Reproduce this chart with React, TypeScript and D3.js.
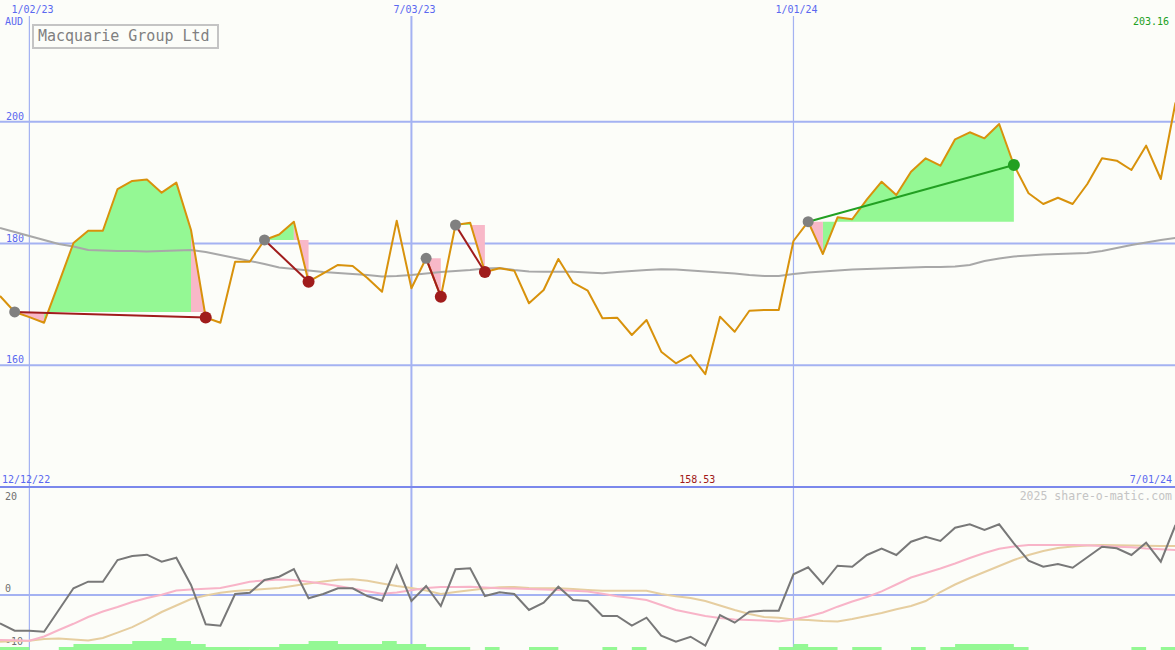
import React from 'react';
import * as d3 from 'd3';

// Weekly closing prices (AUD)
const prices = [
  171.38, 168.75, 167.9, 166.99, 173.5, 180.08, 182.1, 182.1, 188.95, 190.27,
  190.5, 188.35, 190.0, 182.22, 167.84, 166.99, 177.0, 177.0, 180.58, 181.48,
  183.58, 173.72, 175.1, 176.47, 176.3, 174.33, 172.08, 183.75, 172.64, 177.57,
  171.26, 183.04, 183.42, 175.32, 175.93, 175.53, 170.18, 172.36, 177.45, 173.56,
  172.25, 167.71, 167.81, 164.97, 167.43, 162.23, 160.32, 161.68, 158.53, 167.98,
  165.51, 168.96, 169.08, 169.08, 180.41, 183.58, 178.28, 184.3, 183.98, 187.26,
  190.15, 187.97, 191.8, 194.0, 192.78, 197.12, 198.27, 197.28, 199.63, 192.9,
  188.25, 186.49, 187.52, 186.49, 189.77, 194.0, 193.6, 192.07, 196.07, 190.6,
  203.16,
];

// Long moving average of price
const priceMA = [
  182.55, 181.89, 181.23, 180.57, 179.92, 179.51, 178.93, 178.85, 178.77, 178.77,
  178.69, 178.77, 178.85, 178.93, 178.6, 178.11, 177.62, 177.13, 176.63, 176.06,
  175.81, 175.56, 175.32, 175.15, 174.99, 174.83, 174.58, 174.66, 174.83, 175.07,
  175.32, 175.48, 175.65, 175.89, 175.98, 175.65, 175.4, 175.37, 175.37, 175.37,
  175.24, 175.1, 175.32, 175.48, 175.65, 175.76, 175.73, 175.56, 175.4, 175.24,
  175.07, 174.83, 174.66, 174.66, 174.99, 175.24, 175.4, 175.56, 175.73, 175.81,
  175.89, 175.98, 176.06, 176.14, 176.14, 176.22, 176.47, 177.13, 177.54, 177.87,
  178.03, 178.19, 178.28, 178.36, 178.44, 178.77, 179.26, 179.75, 180.16, 180.57,
  180.9,
];

// Momentum oscillator (lower panel)
const oscillator = [
  -6.15, -7.76, -7.76, -7.98, -3.26, 1.46, 2.89, 2.89, 7.61, 8.48,
  8.76, 7.24, 8.11, 2.17, -6.37, -6.67, 0.22, 0.5, 3.26, 3.98,
  5.65, -0.72, 0.22, 1.46, 1.46, -0.22, -1.24, 6.37, -1.3, 1.96,
  -2.39, 5.59, 5.8, -0.22, 0.59, 0.22, -3.26, -1.67, 1.8, -1.09,
  -1.3, -4.57, -4.57, -6.67, -4.93, -8.85, -10.15, -9.07, -11.02, -4.35,
  -6.02, -3.63, -3.41, -3.41, 4.5, 6.02, 2.39, 6.37, 6.15, 8.7,
  10.07, 8.7, 11.59, 12.67, 11.74, 14.63, 15.37, 14.13, 15.37, 11.24,
  7.46, 6.15, 6.74, 5.93, 8.2, 10.5, 10.15, 8.7, 11.37, 7.24,
  15.22,
];

const oscSignalFast = [
  -9.78, -9.85, -9.93, -9.02, -7.61, -6.26, -4.78, -3.59, -2.61, -1.52,
  -0.65, 0.07, 0.98, 1.2, 1.37, 1.52, 2.17, 2.89, 3.15, 3.37,
  3.26, 2.87, 2.46, 1.96, 1.41, 0.8, 0.26, 0.54, 1.02, 1.52,
  1.74, 1.74, 1.8, 1.63, 1.46, 1.39, 1.3, 1.22, 1.09, 0.91,
  0.76, 0.26, -0.26, -0.65, -1.09, -2.17, -3.26, -3.91, -4.57, -5.0,
  -5.3, -5.43, -5.57, -5.76, -5.33, -4.67, -3.8, -2.54, -1.41, -0.43,
  0.8, 2.28, 3.8, 4.78, 5.76, 6.85, 8.04, 9.13, 10.07, 10.54,
  10.87, 10.87, 10.87, 10.87, 10.8, 10.65, 10.5, 10.37, 10.11, 9.93,
  9.78,
];

const oscSignalSlow = [
  -10.15, -10.0, -9.93, -9.57, -9.46, -9.67, -9.89, -9.35, -8.17, -7.0,
  -5.43, -3.7, -2.28, -0.87, -0.11, 0.5, 0.87, 1.09, 1.3, 1.52,
  2.0, 2.5, 2.93, 3.3, 3.41, 3.09, 2.5, 1.96, 1.52, 0.98,
  0.22, 0.65, 1.02, 1.41, 1.7, 1.74, 1.52, 1.46, 1.46, 1.3,
  1.09, 0.93, 0.93, 0.93, 0.93, 0.22, -0.28, -0.65, -1.3, -2.28,
  -3.26, -4.13, -4.78, -4.93, -5.33, -5.43, -5.65, -5.76, -5.22, -4.57,
  -3.91, -3.11, -2.39, -1.3, 0.65, 2.28, 3.7, 5.0, 6.3, 7.61,
  8.7, 9.57, 10.22, 10.54, 10.76, 10.87, 10.83, 10.76, 10.72, 10.65,
  10.65,
];

// Weekly volume level (one per week segment)
const volume = [
  1, 1, 0, 0, 1, 2, 2, 2, 2, 3,
  3, 4, 3, 2, 1, 1, 1, 1, 1, 2,
  2, 3, 3, 2, 2, 2, 3, 2, 2, 1,
  1, 1, 0, 1, 0, 0, 1, 1, 0, 0,
  0, 1, 0, 1, 0, 0, 0, 0, 0, 0,
  0, 0, 0, 1, 2, 1, 1, 0, 1, 1,
  0, 0, 1, 0, 1, 2, 2, 2, 2, 1,
  0, 0, 0, 0, 0, 0, 0, 1, 0, 1,
];

// Trades (week indices)
const tradeEntries = [1, 18, 29, 31, 55];
const tradeExits = [14, 21, 30, 33, 69];

const priceTicks = [200, 180, 160];
const oscTicks = [20, 0, -10];
const dateTickIdx = [2, 28, 54];
const dateTickLabels = ['1/02/23', '7/03/23', '1/01/24'];
const title = 'Macquarie Group Ltd';
const currency = 'AUD';
const startLabel = '12/12/22';
const endLabel = '7/01/24';
const watermark = '2025 share-o-matic.com';

const W = 1175;
const H = 650;
const SEP = 487;
const FONT = '"DejaVu Sans Mono", "Liberation Mono", monospace';

const BG = '#fcfdf9';
const GRID = '#a4b2f2';
const SEPC = '#7b88ec';
const BLUE = '#5a68f0';
const ORANGE = '#d8920c';
const GREENF = '#94f894';
const PINKF = '#f8b8c8';

export default function App() {
  const n = prices.length;
  const x = d3.scaleLinear().domain([0, n - 1]).range([0, 1175.5]);
  const y = d3.scaleLinear().domain([140, 220]).range([SEP, 0]);
  const yo = d3.scaleLinear().domain([0, 20]).range([595, 503]);
  const yv = d3.scaleLinear().domain([0, 4]).range([650, 638]);

  const priceLine = d3.line<number>().x((_, i) => x(i)).y((d) => y(d));
  const oscLine = d3.line<number>().x((_, i) => x(i)).y((d) => yo(d));

  const minIdx = d3.minIndex(prices);
  const last = prices[n - 1];

  const fills: React.ReactNode[] = [];
  tradeEntries.forEach((e, t) => {
    const ex = tradeExits[t];
    const lvl = prices[e];
    const g = d3.path();
    const p = d3.path();
    for (let i = e; i < ex; i++) {
      const target = prices[i + 1] >= lvl ? g : p;
      target.moveTo(x(i), y(lvl));
      target.lineTo(x(i), y(prices[i]));
      target.lineTo(x(i + 1), y(prices[i + 1]));
      target.lineTo(x(i + 1), y(lvl));
      target.closePath();
    }
    fills.push(<path key={`g${t}`} d={g.toString()} fill={GREENF} />);
    fills.push(<path key={`p${t}`} d={p.toString()} fill={PINKF} />);
  });

  const volPath = d3.path();
  volume.forEach((v, i) => {
    if (v > 0) volPath.rect(x(i), yv(v), x(i + 1) - x(i), yv(0) - yv(v));
  });

  return (
    <svg
      width={W}
      height={H}
      style={{ position: 'absolute', left: 0, top: 0, display: 'block' }}
      fontFamily={FONT}
    >
      <rect x={0} y={0} width={W} height={H} fill={BG} />

      {/* Vertical date lines */}
      {dateTickIdx.map((d, k) => (
        <g key={`v${k}`}>
          <line x1={x(d)} x2={x(d)} y1={16} y2={H} stroke={GRID} strokeWidth={k === 1 ? 2 : 1.2} />
          <text x={x(d) - 18} y={13} fontSize={10} fill={BLUE}>
            {dateTickLabels[k]}
          </text>
        </g>
      ))}

      {/* Price grid */}
      {priceTicks.map((p) => (
        <g key={`p${p}`}>
          <line x1={0} x2={W} y1={y(p)} y2={y(p)} stroke={GRID} strokeWidth={2} />
          <text x={6} y={y(p) - 2} fontSize={10} fill={BLUE}>
            {p}
          </text>
        </g>
      ))}

      {/* Trade fills */}
      {fills}

      {/* Moving average */}
      <path d={priceLine(priceMA) || ''} fill="none" stroke="#a8a8a8" strokeWidth={2} />
      {/* Price */}
      <path d={priceLine(prices) || ''} fill="none" stroke={ORANGE} strokeWidth={2} strokeLinejoin="round" />

      {/* Trade lines and markers */}
      {tradeEntries.map((e, t) => {
        const ex = tradeExits[t];
        const win = prices[ex] > prices[e];
        const c = win ? '#22a022' : '#a01c1c';
        return (
          <g key={`t${t}`}>
            <line x1={x(e)} y1={y(prices[e])} x2={x(ex)} y2={y(prices[ex])} stroke={c} strokeWidth={2} />
            <circle cx={x(e)} cy={y(prices[e])} r={5.5} fill="#808080" />
            <circle cx={x(ex)} cy={y(prices[ex])} r={6} fill={c} />
          </g>
        );
      })}

      {/* Header texts */}
      <text x={5} y={25} fontSize={10} fill={BLUE}>{currency}</text>
      <text x={1169} y={25} fontSize={10} fill="#22a022" textAnchor="end">
        {last.toFixed(2)}
      </text>
      <rect x={33} y={25} width={185} height={23} fill={BG} stroke="#c4c4c4" strokeWidth={2} />
      <text x={38} y={41} fontSize={15} fill="#808080">{title}</text>

      {/* Separator */}
      <line x1={0} x2={W} y1={SEP} y2={SEP} stroke={SEPC} strokeWidth={2} />
      <text x={2} y={483} fontSize={10} fill={BLUE}>{startLabel}</text>
      <text x={x(minIdx) - 8} y={483} fontSize={10} fill="#a01818" textAnchor="middle">
        {prices[minIdx].toFixed(2)}
      </text>
      <text x={1172} y={483} fontSize={10} fill={BLUE} textAnchor="end">{endLabel}</text>

      {/* Lower panel */}
      <text x={1172} y={500} fontSize={11.5} fill="#c4c4c4" textAnchor="end">{watermark}</text>
      {oscTicks.map((v) => (
        <g key={`o${v}`}>
          {v === 0 && (
            <line x1={0} x2={W} y1={yo(v)} y2={yo(v)} stroke={GRID} strokeWidth={2} />
          )}
          <text x={5} y={yo(v) + (v < 0 ? 4 : -3)} fontSize={10} fill="#707070">
            {v}
          </text>
        </g>
      ))}

      {/* Volume */}
      <path d={volPath.toString()} fill={GREENF} />

      <path d={oscLine(oscSignalSlow) || ''} fill="none" stroke="#e6cea0" strokeWidth={2} />
      <path d={oscLine(oscSignalFast) || ''} fill="none" stroke="#f8b4c8" strokeWidth={2} />
      <path d={oscLine(oscillator) || ''} fill="none" stroke="#787878" strokeWidth={2} />
    </svg>
  );
}
